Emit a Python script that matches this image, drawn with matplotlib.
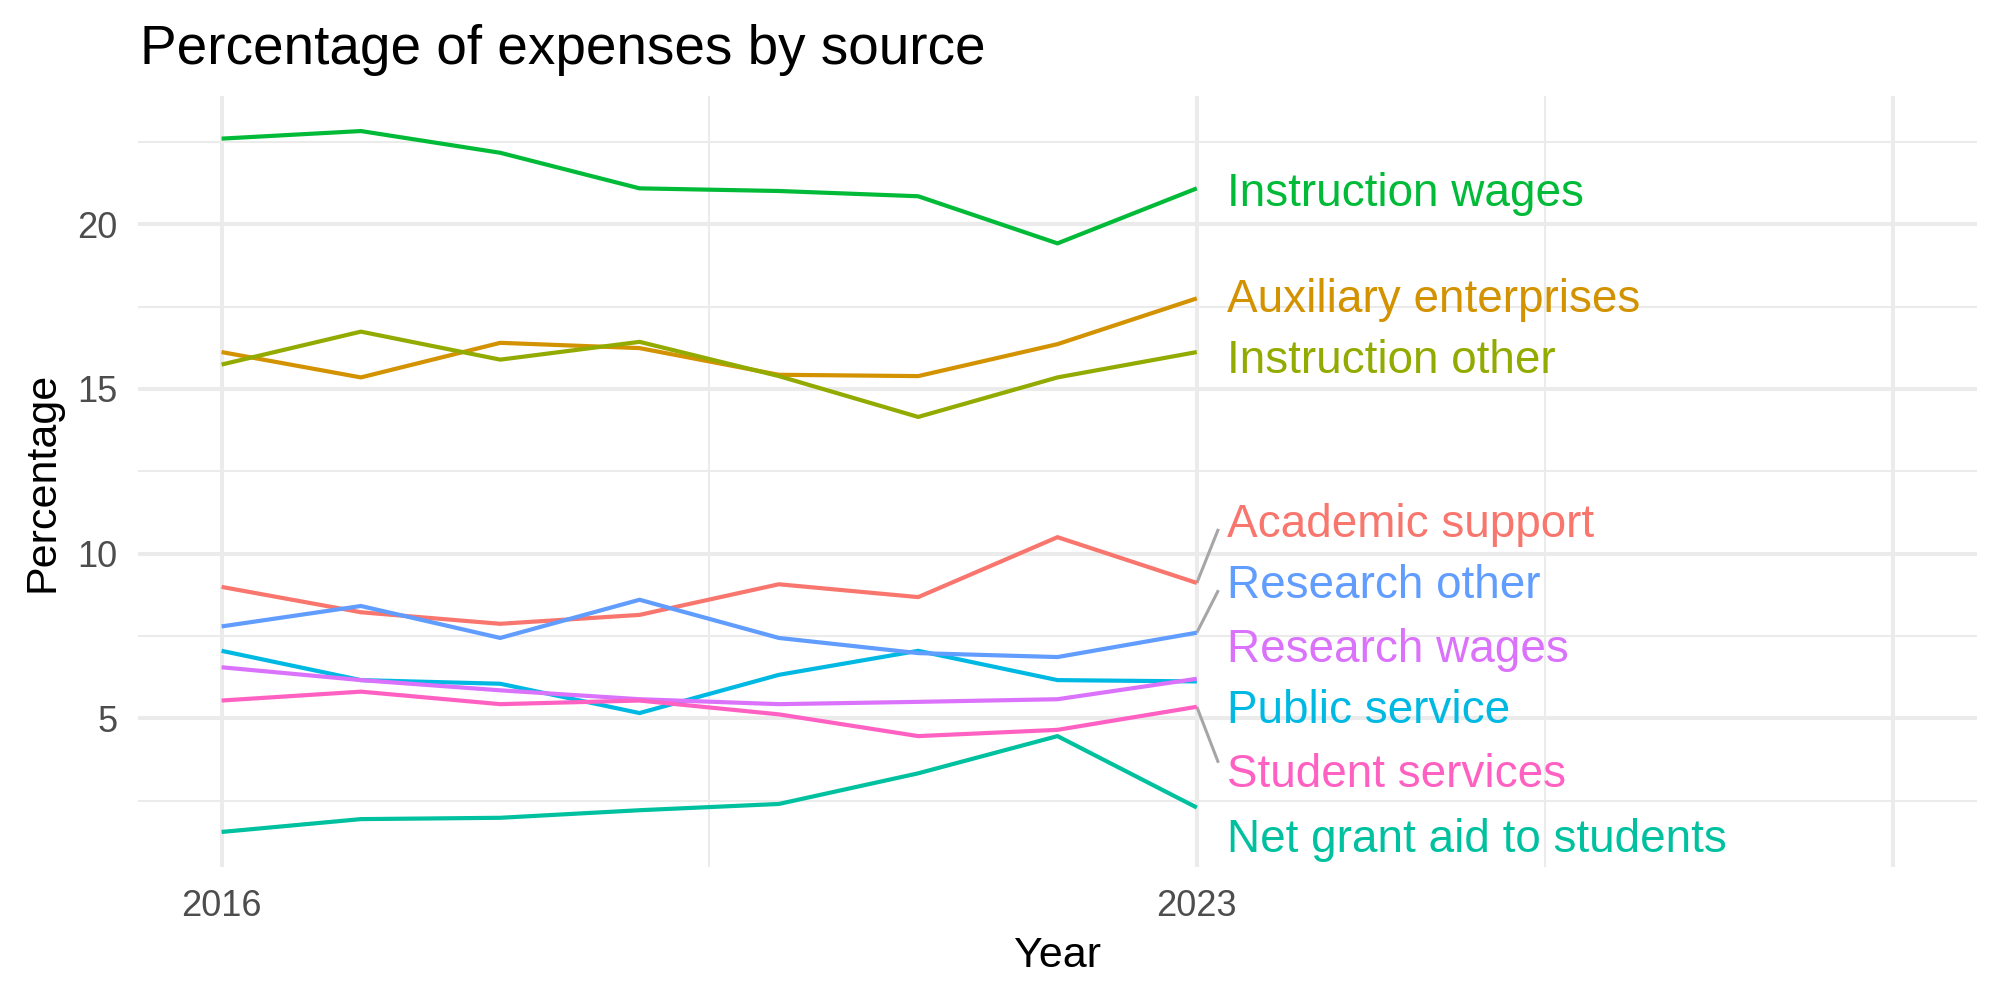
import numpy as np
import matplotlib.pyplot as plt
from matplotlib.ticker import FixedLocator, NullFormatter

plt.rcParams['font.family'] = ['Liberation Sans', 'DejaVu Sans']

# data
years = [2016, 2017, 2018, 2019, 2020, 2021, 2022, 2023]
sources = [
    "Academic support",
    "Auxiliary enterprises",
    "Instruction other",
    "Instruction wages",
    "Net grant aid to students",
    "Public service",
    "Research other",
    "Research wages",
    "Student services",
]
academic_support = [8.99, 8.22, 7.87, 8.14, 9.07, 8.68, 10.50, 9.11]
auxiliary_enterprises = [16.12, 15.35, 16.40, 16.24, 15.43, 15.39, 16.36, 17.75]
instruction_other = [15.74, 16.74, 15.89, 16.43, 15.39, 14.15, 15.35, 16.12]
instruction_wages = [22.60, 22.83, 22.17, 21.09, 21.01, 20.85, 19.42, 21.09]
net_grant_aid = [1.55, 1.94, 1.98, 2.21, 2.40, 3.33, 4.46, 2.29]
public_service = [7.05, 6.16, 6.05, 5.16, 6.32, 7.05, 6.16, 6.12]
research_other = [7.79, 8.41, 7.44, 8.60, 7.44, 6.98, 6.86, 7.60]
research_wages = [6.55, 6.16, 5.85, 5.58, 5.43, 5.50, 5.58, 6.20]
student_services = [5.54, 5.81, 5.43, 5.54, 5.12, 4.46, 4.65, 5.35]

series = [academic_support, auxiliary_enterprises, instruction_other,
          instruction_wages, net_grant_aid, public_service,
          research_other, research_wages, student_services]

# repelled label heights (as placed in the reference)
label_y = [10.87, 17.71, 15.85, 20.93, 1.30, 5.22, 9.01, 7.07, 3.27]
has_segment = [True, False, False, False, False, False, True, False, True]

colors = ["#F8766D", "#D39200", "#93AA00", "#00BA38", "#00C19F",
          "#00B9E3", "#619CFF", "#DB72FB", "#FF61C3"]

fig = plt.figure(figsize=(20, 10), dpi=100)
ax = fig.add_axes([0.069, 0.133, 0.9195, 0.771])

for vals, col in zip(series, colors):
    ax.plot(years, vals, color=col, lw=3.0, solid_capstyle='butt', zorder=3)

# labels at the right end, with grey leader segments for the moved ones
lab_x = 2023.22
seg_x = 2023.155
for name, vals, ly, seg, col in zip(sources, series, label_y, has_segment, colors):
    ax.text(lab_x, ly, name, color=col, fontsize=33, va='center', ha='left',
            zorder=4)
    if seg:
        end_y = ly + 0.13 - 0.25 * np.sign(ly - vals[-1])
        ax.plot([years[-1], seg_x], [vals[-1], end_y], color='#A6A6A6',
                lw=2.2, zorder=2, solid_capstyle='butt')

# scales like ggplot (5% expansion, x stretched to 2028 for the labels)
x_lo, x_hi = 2016, 2028
allv = np.concatenate([np.array(s) for s in series])
y_lo, y_hi = allv.min(), allv.max()
ax.set_xlim(x_lo - 0.05 * (x_hi - x_lo), x_hi + 0.05 * (x_hi - x_lo))
ax.set_ylim(y_lo - 0.05 * (y_hi - y_lo), y_hi + 0.05 * (y_hi - y_lo))

ax.xaxis.set_major_locator(FixedLocator([2016, 2023, 2028]))
ax.set_xticklabels(["2016", "2023", ""])
ax.xaxis.set_minor_locator(FixedLocator([2019.5, 2025.5]))
ax.yaxis.set_major_locator(FixedLocator([5, 10, 15, 20]))
ax.yaxis.set_minor_locator(FixedLocator([2.5, 7.5, 12.5, 17.5, 22.5]))
ax.xaxis.set_minor_formatter(NullFormatter())
ax.yaxis.set_minor_formatter(NullFormatter())

ax.grid(which='major', color='#EBEBEB', lw=2.9)
ax.grid(which='minor', color='#EBEBEB', lw=1.45)
ax.set_axisbelow(True)
for s in ax.spines.values():
    s.set_visible(False)
ax.tick_params(which='both', length=0)
ax.tick_params(axis='x', labelsize=26, labelcolor='#4D4D4D', pad=16)
ax.tick_params(axis='y', labelsize=26, labelcolor='#4D4D4D', pad=15)

ax.set_xlabel("Year", fontsize=31)
ax.set_ylabel("Percentage", fontsize=31)
ax.xaxis.set_label_coords(0.5, -0.089)
ax.yaxis.set_label_coords(-0.041, 0.5)

fig.text(0.07, 1 - 64 / 1000, "Percentage of expenses by source",
         fontsize=39.5, va='baseline', ha='left')

fig.savefig("out.png", dpi=100, facecolor='white')
